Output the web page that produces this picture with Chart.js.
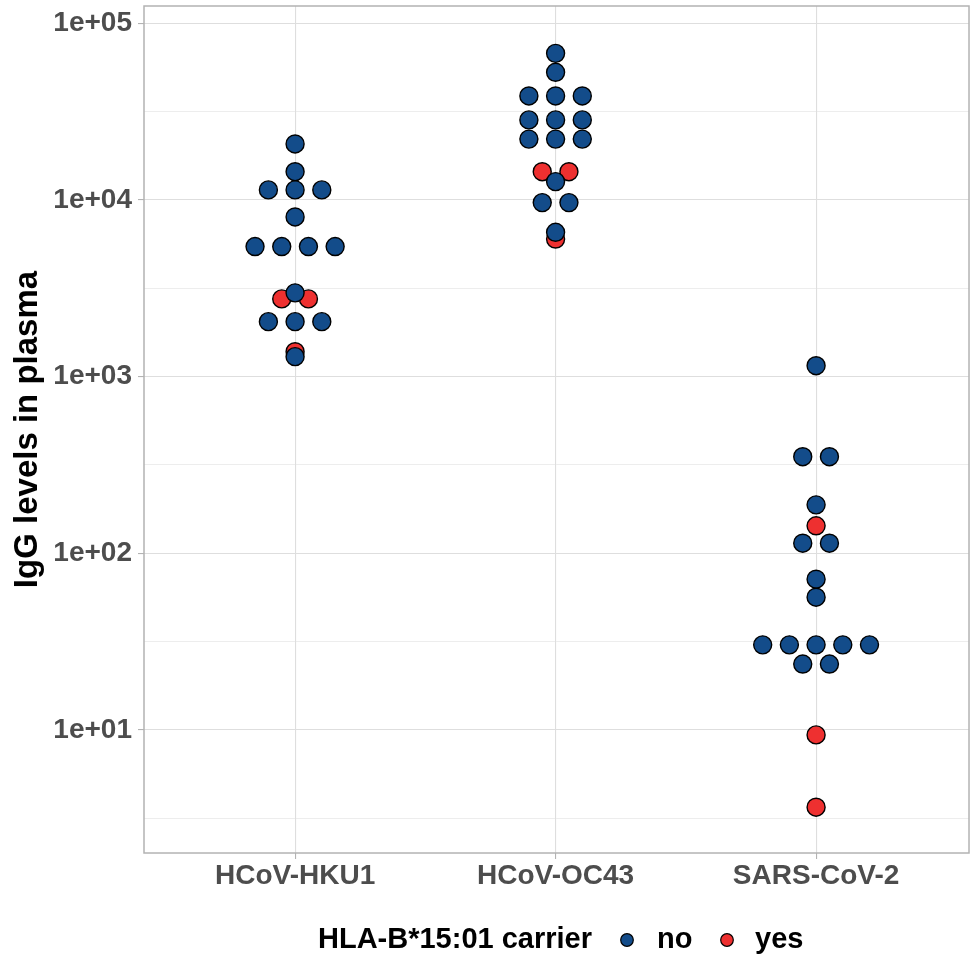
<!DOCTYPE html>
<html>
<head>
<meta charset="utf-8">
<script src="https://cdn.jsdelivr.net/npm/chart.js@4/dist/chart.umd.min.js"></script>
<style>
  html, body { margin: 0; padding: 0; background: #ffffff; }
  #wrap { width: 970px; height: 961px; }
</style>
</head>
<body>
<div id="wrap"><canvas id="chart" width="970" height="961"></canvas></div>
<script>
// categories on the x axis
const categories = ['HCoV-HKU1', 'HCoV-OC43', 'SARS-CoV-2'];

// IgG values, non-carriers ("no")
const noHKU1 = [20750, 14450, 11400, 11400, 11400, 8010, 5450, 5450, 5450, 5450, 2980, 2047, 2047, 2047, 1297];
const noOC43 = [67600, 52800, 38800, 38800, 38800, 28400, 28400, 28400, 22100, 22100, 22100, 12700, 9660, 9660, 6560];
const noSARS = [1153, 352, 352, 188, 114, 114, 71.3, 56.4, 30.3, 30.3, 30.3, 30.3, 30.3, 23.6, 23.6];

// carriers ("yes")
const yesHKU1 = [2754, 2754, 1383];
const yesOC43 = [14450, 14450, 6010];
const yesSARS = [143, 9.37, 3.65];

// y axis ticks (log10)
const yMajorTicks = [10, 100, 1000, 10000, 100000];
const yTickLabels = ['1e+01', '1e+02', '1e+03', '1e+04', '1e+05'];
const yMinorTicks = [3.162, 31.62, 316.2, 3162, 31623];

const legendTitle = 'HLA-B*15:01 carrier';
const groupLabels = ['no', 'yes'];
const groupColors = ['#134c8a', '#ee3030'];

// dots sharing a value sit side by side, centred on the category
const DOT_STEP = 0.1025;
function dodge(values, catIndex) {
  const counts = {};
  values.forEach(v => { counts[v] = (counts[v] || 0) + 1; });
  const seen = {};
  return values.map(v => {
    const n = counts[v];
    const i = seen[v] || 0;
    seen[v] = i + 1;
    return { x: catIndex + 1 + (i - (n - 1) / 2) * DOT_STEP, y: v };
  });
}

const noPoints = [].concat(dodge(noHKU1, 0), dodge(noOC43, 1), dodge(noSARS, 2));
const yesPoints = [].concat(dodge(yesHKU1, 0), dodge(yesOC43, 1), dodge(yesSARS, 2));

const FONT = '"Liberation Sans", Arial, Helvetica, sans-serif';

const panelBorder = {
  id: 'panelBorder',
  beforeDatasetsDraw(chart) {
    const { ctx, chartArea: a } = chart;
    ctx.save();
    ctx.strokeStyle = '#b3b3b3';
    ctx.lineWidth = 1.5;
    ctx.strokeRect(a.left, a.top, a.right - a.left, a.bottom - a.top);
    ctx.restore();
  }
};

const bottomLegend = {
  id: 'bottomLegend',
  afterDraw(chart) {
    const ctx = chart.ctx;
    const y = 940;
    ctx.save();
    ctx.font = 'bold 29px ' + FONT;
    ctx.textBaseline = 'middle';
    ctx.textAlign = 'left';
    ctx.fillStyle = '#000000';
    ctx.fillText(legendTitle, 318, y);
    const dotX = [627, 727];
    const textX = [657, 755];
    groupLabels.forEach((lab, i) => {
      ctx.beginPath();
      ctx.arc(dotX[i], y, 6.3, 0, Math.PI * 2);
      ctx.fillStyle = groupColors[i];
      ctx.fill();
      ctx.lineWidth = 1.2;
      ctx.strokeStyle = '#000000';
      ctx.stroke();
      ctx.fillStyle = '#000000';
      ctx.fillText(lab, textX[i], y);
    });
    ctx.restore();
  }
};

const isMajor = v => yMajorTicks.some(t => Math.abs(t - v) / t < 1e-6);

new Chart(document.getElementById('chart'), {
  type: 'scatter',
  data: {
    datasets: [
      {
        label: groupLabels[0],
        data: noPoints,
        backgroundColor: groupColors[0],
        borderColor: '#000000',
        borderWidth: 1.4,
        pointRadius: 9,
        pointHoverRadius: 9,
      },
      {
        label: groupLabels[1],
        data: yesPoints,
        backgroundColor: groupColors[1],
        borderColor: '#000000',
        borderWidth: 1.4,
        pointRadius: 9,
        pointHoverRadius: 9,
      },
    ],
  },
  options: {
    responsive: false,
    animation: false,
    devicePixelRatio: 1,
    layout: { autoPadding: false, padding: { top: 6, right: 1, left: 0, bottom: 0 } },
    plugins: {
      legend: { display: false },
      tooltip: { enabled: false },
    },
    scales: {
      x: {
        type: 'linear',
        min: 0.42,
        max: 3.587,
        afterBuildTicks(scale) {
          scale.ticks = categories.map((c, i) => ({ value: i + 1 }));
        },
        afterFit(scale) {
          scale.height = 108;
          scale.paddingLeft = 0;
          scale.paddingRight = 0;
        },
        border: { display: false },
        grid: {
          color: '#dedede',
          lineWidth: 1.1,
          drawTicks: true,
          tickLength: 6,
          tickColor: '#b3b3b3',
          tickWidth: 1.1,
        },
        ticks: {
          autoSkip: false,
          maxRotation: 0,
          padding: 0,
          color: '#4d4d4d',
          font: { family: FONT, size: 28, weight: 'bold' },
          callback: v => categories[Math.round(v) - 1],
        },
      },
      y: {
        type: 'logarithmic',
        min: 2.01,
        max: 125300,
        afterBuildTicks(scale) {
          scale.ticks = yMajorTicks.concat(yMinorTicks).sort((a, b) => a - b).map(v => ({ value: v }));
        },
        afterFit(scale) {
          scale.width = 144;
          scale.paddingTop = 0;
          scale.paddingBottom = 0;
        },
        border: { display: false },
        grid: {
          color: '#dedede',
          lineWidth: c => (isMajor(c.tick.value) ? 1.1 : 0.55),
          drawTicks: true,
          tickLength: 6,
          tickColor: c => (isMajor(c.tick.value) ? '#b3b3b3' : 'rgba(0,0,0,0)'),
          tickWidth: 1.1,
        },
        ticks: {
          autoSkip: false,
          padding: 6,
          color: '#4d4d4d',
          font: { family: FONT, size: 28, weight: 'bold' },
          callback: v => {
            const k = yMajorTicks.findIndex(t => Math.abs(t - v) / t < 1e-6);
            return k >= 0 ? yTickLabels[k] : '';
          },
        },
        title: {
          display: true,
          text: 'IgG levels in plasma',
          color: '#000000',
          padding: { top: 8, bottom: 0 },
          font: { family: FONT, size: 33, weight: 'bold' },
        },
      },
    },
  },
  plugins: [panelBorder, bottomLegend],
});
</script>
</body>
</html>
